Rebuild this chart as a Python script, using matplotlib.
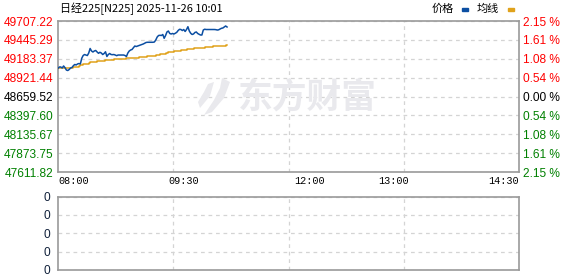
import matplotlib
matplotlib.use("Agg")
import matplotlib.pyplot as plt
from matplotlib.patches import Polygon

plt.rcParams['font.family'] = ['Liberation Sans', 'Noto Sans CJK SC', 'DejaVu Sans']

# ---------------- data ----------------
title = "日经225[N225] 2025-11-26 10:01"
prev_close = 48659.52
y_levels = [49707.22, 49445.29, 49183.37, 48921.44, 48659.52,
            48397.60, 48135.67, 47873.75, 47611.82]
pct_labels = ["2.15 %", "1.61 %", "1.08 %", "0.54 %", "0.00 %",
              "0.54 %", "1.08 %", "1.61 %", "2.15 %"]
time_labels = ["08:00", "09:30", "12:00", "13:00", "14:30"]
time_pos = [0, 90, 180, 240, 330]          # minutes from session start
total_minutes = 330

price = [49051, 49069, 49069, 49055, 49083, 49059, 49027, 49020, 49034, 49055,
         49062, 49087, 49104, 49097, 49111, 49117, 49111, 49190, 49228, 49242,
         49235, 49228, 49263, 49326, 49291, 49277, 49291, 49298, 49277, 49259,
         49273, 49263, 49242, 49256, 49280, 49215, 49242, 49256, 49242, 49240,
         49242, 49235, 49226, 49235, 49235, 49235, 49235, 49235, 49228, 49215,
         49263, 49291, 49305, 49312, 49337, 49360, 49353, 49360, 49367, 49374,
         49381, 49388, 49398, 49409, 49412, 49412, 49412, 49412, 49412, 49416,
         49444, 49485, 49506, 49509, 49506, 49520, 49467, 49506, 49555, 49568,
         49534, 49527, 49534, 49527, 49537, 49550, 49575, 49592, 49589, 49575,
         49589, 49562, 49589, 49628, 49568, 49537, 49520, 49527, 49548, 49555,
         49534, 49523, 49513, 49513, 49582, 49593, 49589, 49589, 49589, 49589,
         49589, 49589, 49589, 49587, 49582, 49585, 49596, 49606, 49610, 49624,
         49638, 49624]

avg = [49059, 49059, 49059, 49059, 49059, 49051, 49051, 49051, 49051, 49051,
       49055, 49065, 49073, 49073, 49073, 49083, 49090, 49097, 49104, 49111,
       49115, 49117, 49124, 49134, 49142, 49142, 49142, 49142, 49148, 49152,
       49152, 49156, 49156, 49156, 49162, 49162, 49162, 49166, 49166, 49166,
       49173, 49173, 49173, 49177, 49177, 49177, 49183, 49183, 49183, 49187,
       49187, 49187, 49191, 49191, 49191, 49196, 49196, 49196, 49203, 49203,
       49203, 49212, 49212, 49212, 49219, 49219, 49219, 49228, 49228, 49228,
       49238, 49238, 49238, 49246, 49246, 49256, 49256, 49266, 49266, 49273,
       49273, 49280, 49280, 49287, 49287, 49295, 49295, 49295, 49302, 49302,
       49309, 49309, 49316, 49316, 49323, 49323, 49323, 49328, 49328, 49334,
       49334, 49334, 49339, 49339, 49339, 49345, 49345, 49345, 49350, 49350,
       49350, 49356, 49356, 49356, 49362, 49362, 49362, 49367, 49367, 49367,
       49373, 49373]

volume_labels = ["0", "0", "0", "0", "0"]

# ---------------- styles ----------------
W, H = 578, 276
RED = "#ff0000"
GREEN = "#008000"
BLACK = "#000000"
BLUE = "#0b4ea2"
ORANGE = "#e0a21b"
SPINE = "#9a9a9a"
GRID = "#d4d4d4"

fig = plt.figure(figsize=(W / 100, H / 100), dpi=100)

def fx(px):
    return px / W

def fy(py):
    return 1 - py / H

L, R = 58, 519
ax = fig.add_axes([fx(L), fy(172), fx(R - L), fy(21) - fy(172)])
axv = fig.add_axes([fx(L), fy(270), fx(R - L), fy(196.5) - fy(270)])

# watermark
fig.text(fx(307.5), fy(97), "东方财富", fontsize=25, fontweight='bold',
         color="#e9e9ed", ha='center', va='center',
         family=['Noto Sans CJK SC'], zorder=0)
icon1 = [(222, 78), (230, 82), (224, 98), (212, 112), (204, 115), (214, 100), (220, 88)]
icon2 = [(208, 84), (214, 82), (210, 96), (200, 108), (198, 102), (204, 92)]
for pts in (icon1, icon2):
    fig.patches.append(Polygon([(fx(a), fy(b)) for a, b in pts], closed=True,
                               transform=fig.transFigure, facecolor="#e9e9ed",
                               edgecolor='none', zorder=0))

x = list(range(len(price)))
for a in (ax, axv):
    a.set_facecolor('none')
    a.set_xlim(0, total_minutes)
    for s in a.spines.values():
        s.set_color(SPINE)
        s.set_linewidth(1.2)
    a.set_xticks([82.5, 165, 247.5], minor=True)
    a.grid(which='minor', axis='x', color=GRID, linestyle=(0, (3, 3)), linewidth=0.9)
    a.grid(which='major', axis='y', color=GRID, linestyle=(0, (3, 3)), linewidth=0.9)
    a.tick_params(which='both', length=0)

ax.plot(x, avg, color=ORANGE, linewidth=1.1, drawstyle='steps-post', zorder=3)
ax.plot(x, price, color=BLUE, linewidth=1.1, zorder=4)
ax.set_ylim(y_levels[-1], y_levels[0])
ax.set_yticks(y_levels)
ax.set_yticklabels([f"{v:.2f}" for v in y_levels], fontsize=8.6)
ax.tick_params(axis='y', pad=3)
for i, t in enumerate(ax.get_yticklabels()):
    t.set_color(RED if i < 4 else (BLACK if i == 4 else GREEN))

ax.set_xticks(time_pos)
ax.set_xticklabels(time_labels, fontsize=7.3, family=['Liberation Mono'])
ax.tick_params(axis='x', pad=3)
xl = ax.get_xticklabels()
xl[0].set_ha('left')
xl[-1].set_ha('right')

axr = ax.twinx()
axr.set_ylim(y_levels[-1], y_levels[0])
axr.set_yticks(y_levels)
axr.set_yticklabels(pct_labels, fontsize=8.6)
axr.tick_params(axis='y', length=0, pad=3)
for s in axr.spines.values():
    s.set_visible(False)
for i, t in enumerate(axr.get_yticklabels()):
    t.set_color(RED if i < 4 else (BLACK if i == 4 else GREEN))

axv.set_ylim(0, 4)
axv.set_yticks(range(5))
axv.set_yticklabels(volume_labels, fontsize=8.6, color="#10203a")
axv.tick_params(axis='y', pad=6)
axv.set_xticks([])

# header
fig.text(fx(60), fy(9), title, fontsize=7.9, color=BLACK, ha='left', va='center',
         family=['Noto Sans CJK SC', 'DejaVu Sans'])
fig.text(fx(432), fy(9), "价格", fontsize=8, color=BLACK, ha='left', va='center',
         family=['Noto Sans CJK SC'])
fig.patches.append(plt.Rectangle((fx(462), fy(11)), fx(6), fy(8) - fy(11),
                                 transform=fig.transFigure, color=BLUE))
fig.text(fx(477), fy(9), "均线", fontsize=8, color=BLACK, ha='left', va='center',
         family=['Noto Sans CJK SC'])
fig.patches.append(plt.Rectangle((fx(508), fy(11)), fx(6), fy(8) - fy(11),
                                 transform=fig.transFigure, color=ORANGE))

fig.savefig("out.png", dpi=100)
